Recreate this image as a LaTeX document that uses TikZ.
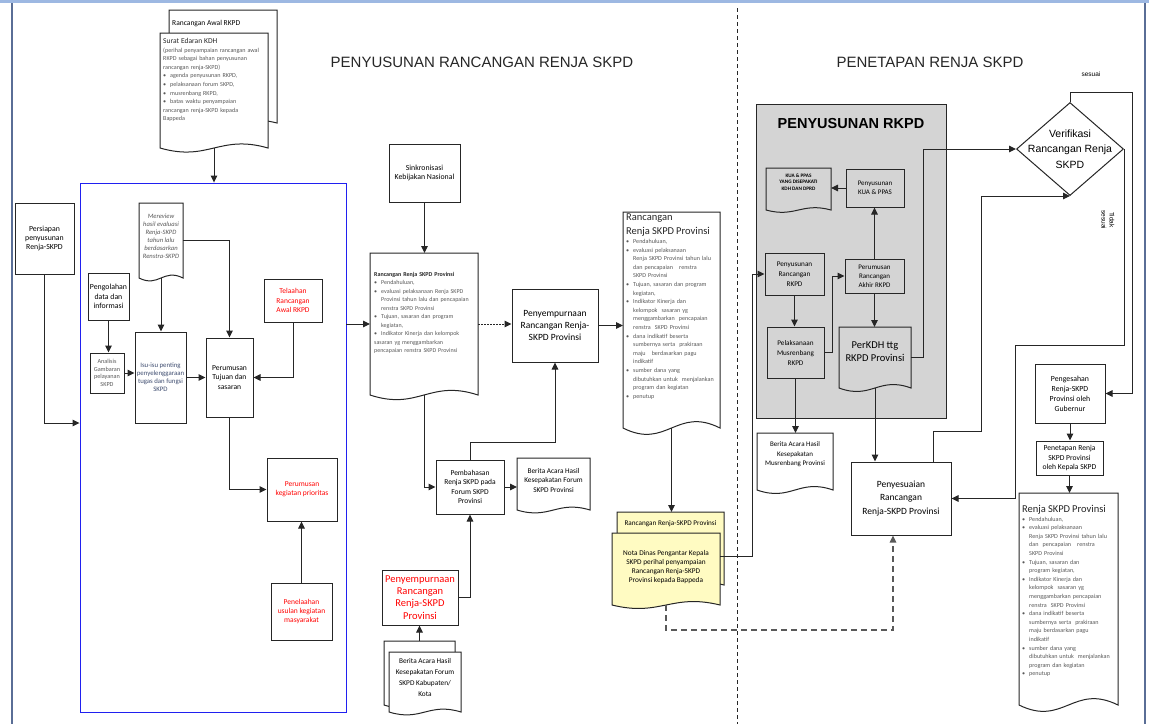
\documentclass[tikz,border=0pt]{standalone}
\usepackage{fontspec}
\setmainfont{Carlito}
\newfontfamily\arialf{Liberation Sans}
\usetikzlibrary{arrows.meta,shapes.geometric,calc}
\definecolor{lc}{HTML}{262626}
\definecolor{bluebox}{HTML}{2020F0}
\definecolor{redt}{HTML}{FF0000}
\definecolor{grayt}{HTML}{595959}
\definecolor{isut}{HTML}{3F4D70}
\definecolor{panel}{HTML}{D4D4D4}
\definecolor{yelf}{HTML}{FFFBC2}
\definecolor{topbar}{HTML}{9DB8E2}
\definecolor{sidebar}{HTML}{5A6E96}
\hyphenpenalty=10000
\exhyphenpenalty=10000
\newcommand{\fs}[2]{\fontsize{#1}{#2}\selectfont}
\newcommand{\bi}{\par\noindent\hangindent=7pt\hangafter=1\makebox[7pt][l]{\textbullet}}
\newcommand{\docout}[3][]{%
  \path[draw=lc, line width=1pt, #1] let \p1=(#2.south west), \p2=(#2.north east), \n1={\x2-\x1} in
   (\x1,\y2) -- (\x2,\y2) -- (\x2,\y1)
   .. controls ({\x2-0.45*\n1},{\y1+#3}) and ({\x1+0.45*\n1},{\y1-#3}) .. (\x1,\y1) -- cycle;}
\begin{document}
\begin{tikzpicture}[x=1pt,y=-1pt,
  bx/.style={draw=lc, line width=1pt, fill=white, align=center, inner sep=1pt},
  bxg/.style={draw=lc, line width=1pt, align=center, inner sep=1pt},
  docbg/.style={draw=none, inner sep=0pt, outer sep=0pt},
  arr/.style={draw=lc, line width=1pt, -{Triangle[length=7pt,width=6.5pt]}},
  dtext/.style={anchor=north west, align=left, inner sep=0pt}]
\useasboundingbox (0,0) rectangle (1149,724);

% frame
\draw[line width=3pt, topbar] (0,1.5) -- (1149,1.5);
\draw[line width=1.5pt, sidebar] (12,3) -- (12,724);
\draw[line width=1.5pt, sidebar] (1145,3) -- (1145,724);

% titles and divider
\node[font=\arialf\fs{15}{18}, text=lc] (t1) at (482,62) {PENYUSUNAN RANCANGAN RENJA SKPD};
\node[font=\arialf\fs{15}{18}, text=lc] (t2) at (930,62) {PENETAPAN RENJA SKPD};
\draw[lc, line width=0.8pt, dash pattern=on 4pt off 3pt] (737,8) -- (737,724);

% blue frame
\node[draw=bluebox, line width=0.9pt, minimum width=266pt, minimum height=529pt, inner sep=0pt] (blue) at (213,447.5) {};

% top documents
\node[docbg, minimum width=108pt, minimum height=113pt] (awal) at (223,66.5) {};
\docout[fill=white]{awal}{12pt}
\node[dtext, font=\fs{7.5}{9}] (awalt) at ([shift={(3,10)}]awal.north west) {Rancangan Awal RKPD};
\node[docbg, minimum width=108pt, minimum height=115pt] (surat) at (214,90.5) {};
\docout[fill=white]{surat}{14pt}
\node[dtext, text width=104pt, font=\fs{6.1}{8.6}, text=grayt] (surtt) at ([shift={(3,5)}]surat.north west)
 {{\fs{7.5}{9}\color{lc}Surat Edaran KDH\par}
  (perihal penyampaian rancangan awal RKPD sebagai bahan penyusunan rancangan renja-SKPD)
  \bi agenda penyusunan RKPD,
  \bi pelaksanaan forum SKPD,
  \bi musrenbang RKPD,
  \bi batas waktu penyampaian\newline rancangan renja-SKPD kepada\newline Bappeda};
\draw[arr] (surat.south) -- (surat.south |- blue.north);

% left side
\node[bx, minimum width=59pt, minimum height=71pt, font=\fs{7.8}{9.3}] (persiapan) at (44.5,238.5) {Persiapan\\penyusunan\\Renja-SKPD};
\coordinate (c0) at (44.5,423);
\draw[arr] (persiapan.south) -- (c0) -- (c0 -| blue.west);

\node[bx, minimum width=41pt, minimum height=47pt, font=\fs{7.8}{9.3}] (pengolahan) at (108.5,296.5) {Pengolahan\\data dan\\informasi};
\node[bx, minimum width=34pt, minimum height=40pt, font=\fs{6.2}{7.5}, text=grayt] (analisis) at (107,373) {Analisis\\Gambaran\\pelayanan\\SKPD};
\node[bx, minimum width=51pt, minimum height=91pt, font=\fs{6.8}{8}, text=isut] (isu) at (160.5,377.5) {Isu-isu penting\\penyelenggaraan\\tugas dan fungsi\\SKPD};
\node[docbg, minimum width=44pt, minimum height=75pt] (mereview) at (161,240.5) {};
\docout[fill=white]{mereview}{10pt}
\node[font=\fs{6.6}{8}\itshape, text=grayt, align=center, inner sep=0pt] (mereviewt) at ([yshift=4pt]mereview.center) {Mereview\\hasil evaluasi\\Renja-SKPD\\tahun lalu\\berdasarkan\\Renstra-SKPD};
\node[bx, minimum width=47pt, minimum height=79pt, font=\fs{7.6}{9.5}] (perumusan) at (229.5,377.5) {Perumusan\\Tujuan dan\\sasaran};
\node[bx, minimum width=58pt, minimum height=43pt, font=\fs{7.5}{9.3}, text=redt] (telaahan) at (293,300.5) {Telaahan\\Rancangan\\Awal RKPD};
\node[bx, minimum width=70pt, minimum height=63pt, font=\fs{7.5}{9.3}, text=redt] (prioritas) at (302,489.5) {Perumusan\\kegiatan prioritas};
\node[bx, minimum width=61pt, minimum height=57pt, font=\fs{7.5}{9.3}, text=redt] (penelaahan) at (301.5,611.5) {Penelaahan\\usulan kegiatan\\masyarakat};

\draw[arr] (pengolahan.south) -- (pengolahan.south |- analisis.north);
\draw[arr] (analisis.east) -- (analisis.east -| isu.west);
\draw[arr] (mereview.south) -- (mereview.south |- isu.north);
\draw[arr] (mereview.east) -| (perumusan.north);
\draw[arr] (isu.east) -- (isu.east -| perumusan.west);
\draw[arr] (telaahan.south) |- (perumusan.east);
\draw[arr] (perumusan.south) |- (prioritas.west);
\draw[arr] (penelaahan.north) -- (penelaahan.north |- prioritas.south);

% middle
\node[bx, minimum width=71pt, minimum height=58pt, font=\fs{7.8}{9.5}] (sinkron) at (424.5,173) {Sinkronisasi\\Kebijakan Nasional};
\node[docbg, minimum width=108pt, minimum height=142pt] (ranc1) at (424,324) {};
\docout[fill=white]{ranc1}{16pt}
\node[dtext, text width=104pt, font=\fs{6}{8.5}, text=grayt] (ranc1t) at ([shift={(4,19)}]ranc1.north west)
 {{\bfseries\color{lc}Rancangan Renja SKPD Provinsi\par}
  \bi Pendahuluan,
  \bi evaluasi pelaksanaan Renja SKPD\newline Provinsi tahun lalu dan pencapaian\newline renstra SKPD Provinsi
  \bi Tujuan, sasaran dan program\newline kegiatan,
  \bi Indikator Kinerja dan kelompok\newline sasaran yg menggambarkan\newline pencapaian renstra SKPD Provinsi};
\node[bx, minimum width=86pt, minimum height=73pt, font=\fs{9.5}{12}] (penyemp) at (555,325.5) {Penyempurnaan\\Rancangan Renja-\\SKPD Provinsi};
\node[bx, minimum width=68pt, minimum height=54pt, font=\fs{7.5}{9.5}] (pembahasan) at (470,487) {Pembahasan\\Renja SKPD pada\\Forum SKPD\\Provinsi};
\node[docbg, minimum width=73pt, minimum height=52pt] (baforum) at (553.5,484) {};
\docout[fill=white]{baforum}{10pt}
\node[font=\fs{7.3}{9.5}, align=center, inner sep=0pt] (baforumt) at ([yshift=4pt]baforum.center) {Berita Acara Hasil\\Kesepakatan Forum\\SKPD Provinsi};
\node[bx, minimum width=76pt, minimum height=55pt, font=\fs{10.5}{12.3}, text=redt] (penyemp2) at (420,597.5) {Penyempurnaan\\Rancangan\\Renja-SKPD\\Provinsi};
\node[docbg, minimum width=71pt, minimum height=64pt] (bakab0) at (419.5,673) {};
\docout[fill=white]{bakab0}{10pt}
\node[docbg, minimum width=72pt, minimum height=60pt] (bakab) at (425,682) {};
\docout[fill=white]{bakab}{10pt}
\node[font=\fs{7.3}{11}, align=center, inner sep=0pt] (bakabt) at ([yshift=5pt]bakab.center) {Berita Acara Hasil\\Kesepakatan Forum\\SKPD Kabupaten/\\Kota};

\draw[arr] (ranc1.west -| blue.east) -- (ranc1.west);
\draw[arr] (sinkron.south) -- (sinkron.south |- ranc1.north);
\draw[arr, dash pattern=on 1.5pt off 1.5pt] (ranc1.east) -- (ranc1.east -| penyemp.west);
\draw[arr] (ranc1.south) |- (pembahasan.west);
\draw[arr] (pembahasan.east) -- (pembahasan.east -| baforum.west);
\draw[arr] (pembahasan.north) -- ++(0,-17) -| (penyemp.south);
\draw[arr] (penyemp2.east) -| (pembahasan.south);
\draw[arr] (bakab0.north) -- (bakab0.north |- penyemp2.south);

% right-of-middle document
\node[docbg, minimum width=97pt, minimum height=216pt] (ranc2) at (671.5,320) {};
\docout[fill=white]{ranc2}{22pt}
\node[dtext, text width=94pt, font=\fs{6.1}{8.6}, text=grayt] (ranc2t) at ([shift={(3,2)}]ranc2.north west)
 {{\fs{10.5}{14}\color{lc}Rancangan\\Renja SKPD Provinsi\par}
  \bi Pendahuluan,
  \bi evaluasi pelaksanaan\newline Renja SKPD Provinsi tahun lalu\newline dan pencapaian\quad renstra\newline SKPD Provinsi
  \bi Tujuan, sasaran dan program\newline kegiatan,
  \bi Indikator Kinerja dan\newline kelompok\ \ sasaran yg\newline menggambarkan\ \ pencapaian\newline renstra\ \ SKPD Provinsi
  \bi dana indikatif beserta\newline sumbernya serta\ \ prakiraan\newline maju\quad berdasarkan pagu\newline indikatif
  \bi sumber dana yang\newline dibutuhkan untuk\ \ menjalankan\newline program dan kegiatan
  \bi penutup};
\draw[arr] (penyemp.east) -- (penyemp.east -| ranc2.west);

% yellow documents
\node[docbg, minimum width=107pt, minimum height=73pt] (yel0) at (670.5,548.5) {};
\docout[fill=yelf]{yel0}{12pt}
\node[anchor=north, font=\fs{7.2}{8.5}, inner sep=0pt] (yel0t) at ([yshift=-8pt]yel0.north) {Rancangan Renja-SKPD Provinsi};
\node[docbg, minimum width=108pt, minimum height=72pt] (yel) at (666,569) {};
\docout[fill=yelf]{yel}{12pt}
\node[font=\fs{7.3}{9.3}, align=center, inner sep=0pt] (yelt) at ([yshift=2pt]yel.center) {Nota Dinas Pengantar Kepala\\SKPD perihal penyampaian\\Rancangan Renja-SKPD\\Provinsi kepada Bappeda};
\draw[arr] (ranc2.south) -- (ranc2.south |- yel0.north);

% RKPD panel
\node[draw=lc, line width=1pt, fill=panel, minimum width=190pt, minimum height=314pt, inner sep=0pt] (rkpd) at (851,261) {};
\node[font=\arialf\bfseries\fs{14.5}{16}] (rkpdt) at (851,124) {PENYUSUNAN RKPD};
\node[docbg, minimum width=65pt, minimum height=42pt] (kua) at (798.5,189) {};
\docout{kua}{8pt}
\node[font=\bfseries\fs{5.2}{6.5}, align=center, inner sep=0pt] (kuat) at ([yshift=7pt]kua.center) {KUA \& PPAS\\YANG DISEPAKATI\\KDH DAN DPRD};
\node[bxg, minimum width=58pt, minimum height=38pt, font=\fs{7}{9.5}] (kuabox) at (875,188) {Penyusunan\\KUA \& PPAS};
\node[bxg, minimum width=59pt, minimum height=42pt, font=\fs{7.2}{10}] (rrkpd) at (794.5,274) {Penyusunan\\Rancangan\\RKPD};
\node[bxg, minimum width=59pt, minimum height=34pt, font=\fs{7}{9}] (akhir) at (874.5,276) {Perumusan\\Rancangan\\Akhir RKPD};
\node[bxg, minimum width=57pt, minimum height=51pt, font=\fs{7.2}{10}] (musren) at (795.5,352.5) {Pelaksanaan\\Musrenbang\\RKPD};
\node[docbg, minimum width=72pt, minimum height=61pt] (perkdh) at (875,357.5) {};
\docout{perkdh}{12pt}
\node[font=\fs{10.5}{13}, align=center, inner sep=0pt] (perkdht) at ([yshift=6pt]perkdh.center) {PerKDH ttg\\RKPD Provinsi};
\node[docbg, minimum width=76pt, minimum height=57pt] (bamusren) at (795,461.5) {};
\docout[fill=white]{bamusren}{12pt}
\node[font=\fs{7}{9.5}, align=center, inner sep=0pt] (bamusrent) at ([yshift=7pt]bamusren.center) {Berita Acara Hasil\\Kesepakatan\\Musrenbang Provinsi};

\coordinate (c1) at (752,556);
\draw[arr] (yel.east |- c1) -- (c1) |- (rrkpd.west);
\draw[arr] (kuabox.west) -- (kuabox.west -| kua.east);
\draw[arr] (akhir.north) -- (akhir.north |- kuabox.south);
\draw[arr] (rrkpd.south) -- (rrkpd.south |- musren.north);
\draw[arr] (musren.east) -- ++(8,0) |- (akhir.west);
\draw[arr] (akhir.south) -- (akhir.south |- perkdh.north);
\draw[arr] (musren.south) -- (musren.south |- bamusren.north);

% right column
\node[bx, minimum width=100pt, minimum height=73pt, font=\fs{9.5}{13.5}] (penyesuaian) at (901,498.5) {Penyesuaian\\Rancangan\\Renja-SKPD Provinsi};
\node[diamond, draw=lc, line width=1pt, fill=white, minimum width=107pt, minimum height=93pt, inner sep=0pt] (verif) at (1070,149) {};
\node[font=\arialf\fs{10.5}{15.5}, align=center, inner sep=0pt] (veriftxt) at (verif.center) {Verifikasi\\Rancangan Renja\\SKPD};
\node[font=\arialf\fs{6.5}{8}] (sesuai) at (1091,74) {sesuai};
\node[font=\arialf\fs{6.5}{8}, rotate=-90, align=center] (tidak) at (1108,220) {Tidak\\sesuai};
\node[bx, minimum width=70pt, minimum height=59pt, font=\fs{7.8}{10}] (pengesahan) at (1070,393.5) {Pengesahan\\Renja-SKPD\\Provinsi oleh\\Gubernur};
\node[bx, minimum width=67pt, minimum height=34pt, font=\fs{7.6}{9.2}] (penetapan) at (1069.5,458) {Penetapan Renja\\SKPD Provinsi\\oleh Kepala SKPD};
\node[docbg, minimum width=99pt, minimum height=212pt] (renja) at (1068.5,599) {};
\docout[fill=white]{renja}{22pt}
\node[dtext, text width=96pt, font=\fs{6.1}{8.6}, text=grayt] (renjat) at ([shift={(3,12)}]renja.north west)
 {{\fs{10.5}{13}\color{lc}Renja SKPD Provinsi\par}
  \bi Pendahuluan,
  \bi evaluasi pelaksanaan\newline Renja SKPD Provinsi tahun lalu\newline dan\ \ pencapaian\quad renstra\newline SKPD Provinsi
  \bi Tujuan, sasaran dan\newline program kegiatan,
  \bi Indikator Kinerja dan\newline kelompok\ \ sasaran yg\newline menggambarkan pencapaian\newline renstra\ \ SKPD Provinsi
  \bi dana indikatif beserta\newline sumbernya serta\ \ prakiraan\newline maju berdasarkan pagu\newline indikatif
  \bi sumber dana yang\newline dibutuhkan untuk\ \ menjalankan\newline program dan kegiatan
  \bi penutup};

\draw[arr] (perkdh.south) -- (perkdh.south |- penyesuaian.north);
\draw[arr] (perkdh.east) -- ++(12,0) |- (verif.west);
\coordinate (c3) at (893,630);
\draw[arr, draw=grayt, line width=1.4pt, dash pattern=on 6pt off 4pt] (yel.south) |- (c3) -- (c3 |- penyesuaian.south);
\coordinate (c5) at (933,431);
\coordinate (c6) at (981,431);
\draw[arr] (c5 |- penyesuaian.north) -- (c5) -- (c6) |- (verif.south);
\coordinate (c4) at (1132,393.5);
\draw[arr] (verif.north) -- ++(0,-10) -| (c4) -- (pengesahan.east);
\coordinate (c7) at (1015,345);
\draw[arr] (verif.east) |- (c7) |- (penyesuaian.east);
\draw[arr] (pengesahan.south) -- (pengesahan.south |- penetapan.north);
\draw[arr] (penetapan.south) -- (penetapan.south |- renja.north);
\end{tikzpicture}
\end{document}
